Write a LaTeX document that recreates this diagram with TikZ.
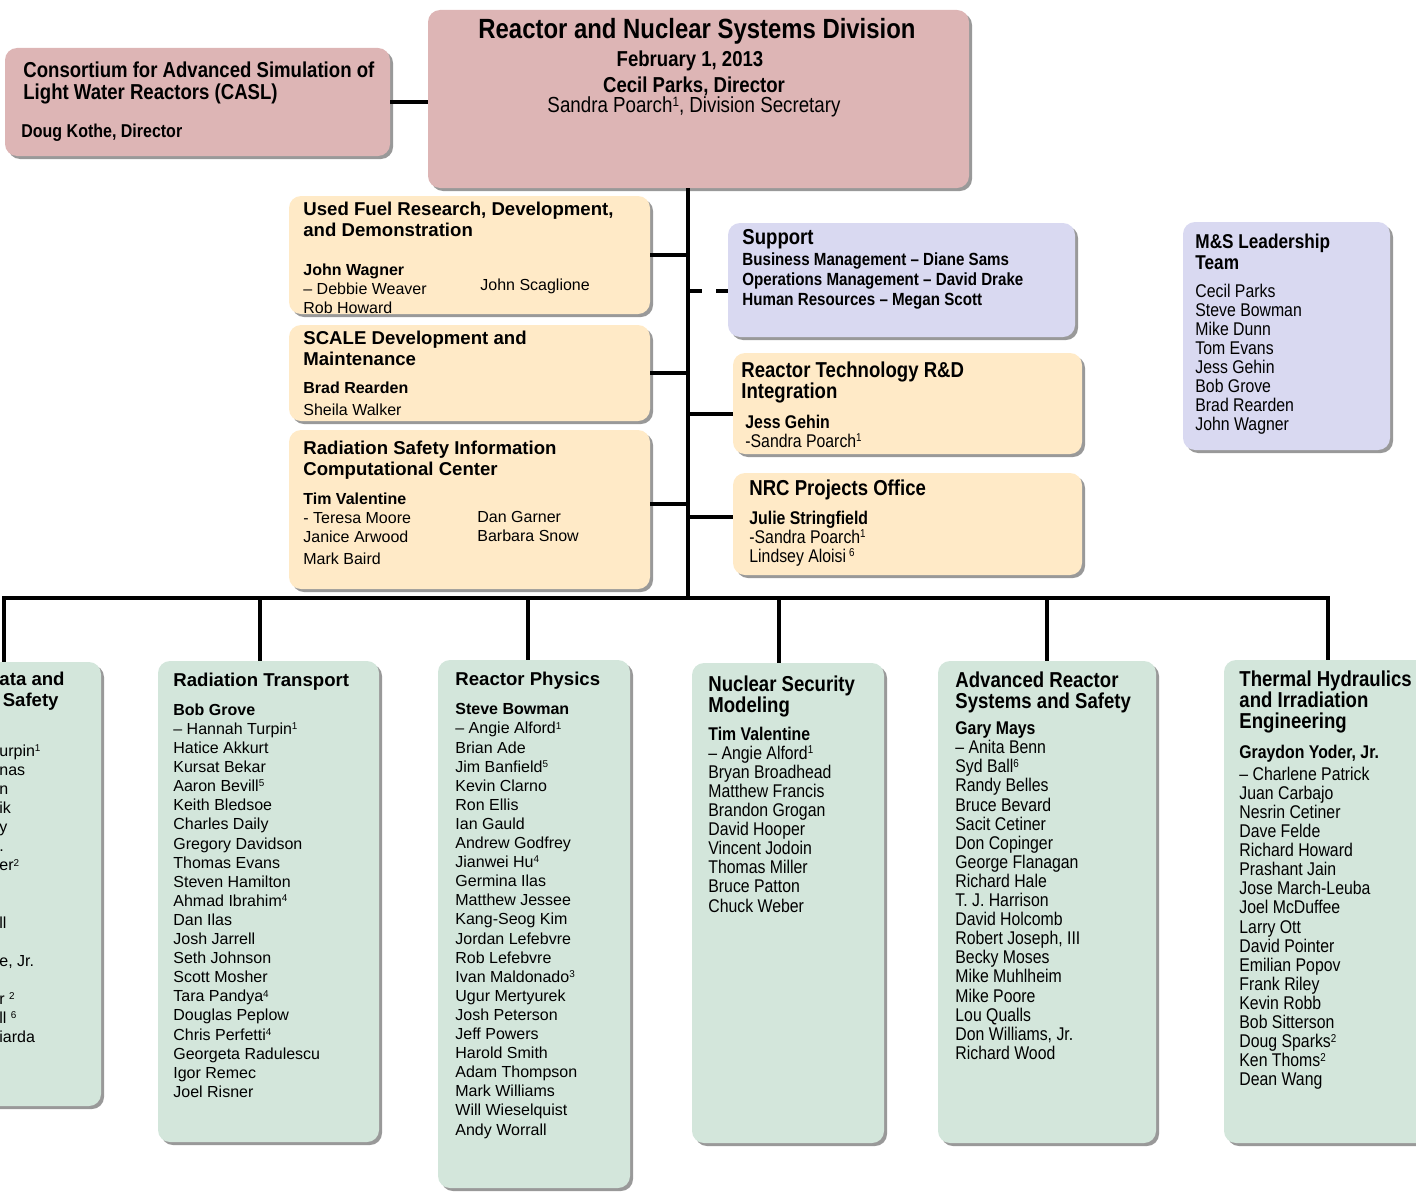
\documentclass[tikz,border=0pt]{standalone}
\usepackage{graphicx}
\usepackage{fontspec}
\setmainfont{Liberation Sans}
\newfontfamily\narrowfont[FakeStretch=0.86]{Liberation Sans}
\usetikzlibrary{fit,shadows}
\newcommand{\fsz}[2]{\fontsize{#1}{#2}\selectfont}
\newcommand{\fnote}[1]{\smash{\raisebox{0.3em}{\scalebox{0.62}{#1}}}}
\definecolor{rosebg}{RGB}{221,181,181}
\definecolor{sandbg}{RGB}{255,234,199}
\definecolor{lilacbg}{RGB}{217,217,241}
\definecolor{mintbg}{RGB}{211,230,219}
\tikzset{box/.style={rounded corners=6pt, inner sep=0pt, draw=none,
           drop shadow={shadow xshift=1.5pt, shadow yshift=-1.5pt, fill=black!40, opacity=1}},
         rosebox/.style={box, fill=rosebg}, sandbox/.style={box, fill=sandbg},
         lilacbox/.style={box, fill=lilacbg}, mintbox/.style={box, fill=mintbg},
         txt/.style={inner sep=0pt, anchor=north west, align=left},
         wtitle/.style={txt, font=\bfseries\fsz{9.3}{10.5}},
         wlist/.style={txt, font=\fsz{8}{9.55}},
         ntitle/.style={txt, font=\narrowfont\bfseries\fsz{10.8}{10.6}},
         nlist/.style={txt, font=\narrowfont\fsz{9.2}{9.55}},
         link/.style={line width=2pt, black}}

\begin{document}
\begin{tikzpicture}[x=0.5pt,y=-0.5pt]
 \useasboundingbox (0,0) rectangle (1416,1193);
 \clip (0,0) rectangle (1416,1193);
 % boxes
 \node[rosebox, fit={(5,48) (390,156)}] (casl) {};
 \node[rosebox, fit={(428,10) (969,188)}] (rnsd) {};
 \node[sandbox, fit={(289,196) (650,314)}] (uf) {};
 \node[sandbox, fit={(289,325) (650,421)}] (scale) {};
 \node[sandbox, fit={(289,430) (650,589)}] (rsicc) {};
 \node[lilacbox, fit={(728,223) (1075,337)}] (sup) {};
 \node[sandbox, fit={(733,353) (1082,454)}] (rtech) {};
 \node[sandbox, fit={(733,473) (1082,575)}] (nrc) {};
 \node[lilacbox, fit={(1183,222) (1390,450)}] (msl) {};
 \node[mintbox, fit={(-150,662) (101,1106)}] (ldata) {};
 \node[mintbox, fit={(158,661) (379,1142)}] (rt) {};
 \node[mintbox, fit={(438,660) (630,1188)}] (rp) {};
 \node[mintbox, fit={(692,663) (884,1143)}] (nsm) {};
 \node[mintbox, fit={(938,661) (1156,1143)}] (arss) {};
 \node[mintbox, fit={(1224,660) (1460,1143)}] (thie) {};
 % connectors
 \coordinate (trunk) at (688,188);
 \coordinate (hub) at (688,598);
 \coordinate (d1) at (4,598);
 \coordinate (d2) at (260,598);
 \coordinate (d3) at (528,598);
 \coordinate (d4) at (779,598);
 \coordinate (d5) at (1047,598);
 \coordinate (d6) at (1328,598);
 \draw[link] (casl.east) -- (casl.east -| rnsd.west);
 \draw[link] (trunk) -- (hub);
 \draw[link] (uf.east) -- (uf.east -| hub);
 \draw[link] (scale.east) -- (scale.east -| hub);
 \draw[link] ([yshift=2.75pt]rsicc.east) -- ([yshift=2.75pt]rsicc.east -| hub);
 \draw[link, dash pattern=on 7pt off 7pt] ([yshift=-5.5pt]sup.west -| hub) -- ([yshift=-5.5pt]sup.west);
 \draw[link] ([yshift=-5.25pt]rtech.west) -- ([yshift=-5.25pt]rtech.west -| hub);
 \draw[link] ([yshift=3.5pt]nrc.west) -- ([yshift=3.5pt]nrc.west -| hub);
 \draw[link] (d1 |- ldata.north) -- (d1) -- (d6) -- (d6 |- thie.north);
 \draw[link] (d2) -- (d2 |- rt.north);
 \draw[link] (d3) -- (d3 |- rp.north);
 \draw[link] (d4) -- (d4 |- nsm.north);
 \draw[link] (d5) -- (d5 |- arss.north);
 % division
 \node[font=\narrowfont\bfseries\fsz{13.9}{16}, anchor=base, inner sep=0pt] (rnsd-t) at (697,39) {Reactor and Nuclear Systems Division};
 \node[font=\narrowfont\bfseries\fsz{10.8}{12}, anchor=base, inner sep=0pt] (rnsd-d) at (690,66.7) {February 1, 2013};
 \node[font=\narrowfont\bfseries\fsz{10.8}{12}, anchor=base, inner sep=0pt] (rnsd-h) at (694,92.7) {Cecil Parks, Director};
 \node[font=\narrowfont\fsz{10.9}{12}, anchor=base, inner sep=0pt] (rnsd-s) at (694,112.8) {Sandra Poarch\fnote{1}, Division Secretary};
 \node[txt, font=\narrowfont\bfseries\fsz{10.8}{11}] (casl-t) at (23,61.3) {Consortium for Advanced Simulation of\\Light Water Reactors (CASL)};
 \node[txt, font=\narrowfont\bfseries\fsz{9.3}{11}] (casl-d) at (21,123.3) {Doug Kothe, Director};
 % groups beside the trunk
 \node[wtitle] (uf-t) at (303,201.3) {Used Fuel Research, Development,\\and Demonstration};
 \node[wlist] (uf-l) at (303,263.3) {\textbf{John Wagner}\\– Debbie Weaver\\Rob Howard};
 \node[wlist, anchor=base west] (uf-r) at (480,290.7) {John Scaglione};
 \node[wtitle] (scale-t) at (303,330.3) {SCALE Development and\\Maintenance};
 \node[wlist] (scale-l) at (303,381.3) {\textbf{Brad Rearden}\\[1.5pt]Sheila Walker};
 \node[wtitle] (rsicc-t) at (303,440.3) {Radiation Safety Information\\Computational Center};
 \node[wlist] (rsicc-l) at (303,492.3) {\textbf{Tim Valentine}\\- Teresa Moore\\Janice Arwood\\[1.5pt]Mark Baird};
 \node[wlist] (rsicc-r) at (477,511.3) {Dan Garner\\Barbara Snow};
 \node[ntitle] (sup-t) at (742,229.3) {Support};
 \node[txt, font=\narrowfont\bfseries\fsz{8.8}{10}] (sup-l) at (742,252.7) {Business Management – Diane Sams\\Operations Management – David Drake\\Human Resources – Megan Scott};
 \node[ntitle] (rtech-t) at (741,361.3) {Reactor Technology R\&D\\Integration};
 \node[nlist] (rtech-l) at (745,414.4) {\textbf{Jess Gehin}\\-Sandra Poarch\fnote{1}};
 \node[ntitle] (nrc-t) at (749,479.3) {NRC Projects Office};
 \node[nlist] (nrc-l) at (749,510.4) {\textbf{Julie Stringfield}\\-Sandra Poarch\fnote{1}\\Lindsey Aloisi\,\fnote{6}};
 \node[txt, font=\narrowfont\bfseries\fsz{10}{10.5}] (msl-t) at (1195,233.8) {M\&S Leadership\\Team};
 \node[nlist] (msl-l) at (1195,283.4) {Cecil Parks\\Steve Bowman\\Mike Dunn\\Tom Evans\\Jess Gehin\\Bob Grove\\Brad Rearden\\John Wagner};
 % sections
 \node[wtitle, anchor=north east] (ldata-t1) at (65,671.3) {ata and};
 \node[wtitle, anchor=north east] (ldata-t2) at (59,692.3) {Safety};
 \node[wlist] (ldata-l) at (-1,744.3) {urpin\fnote{1}\\nas\\n\\ik\\y\\.\\er\fnote{2}\\\mbox{}\\\mbox{}\\ll\\\mbox{}\\e, Jr.\\\mbox{}\\r \fnote{2}\\ll \fnote{6}\\iarda};
 \node[wtitle] (rt-t) at (173,672.3) {Radiation Transport};
 \node[wlist] (rt-l) at (173,703.3) {\textbf{Bob Grove}\\– Hannah Turpin\fnote{1}\\Hatice Akkurt\\Kursat Bekar\\Aaron Bevill\fnote{5}\\Keith Bledsoe\\Charles Daily\\Gregory Davidson\\Thomas Evans\\Steven Hamilton\\Ahmad Ibrahim\fnote{4}\\Dan Ilas\\Josh Jarrell\\Seth Johnson\\Scott Mosher\\Tara Pandya\fnote{4}\\Douglas Peplow\\Chris Perfetti\fnote{4}\\Georgeta Radulescu\\Igor Remec\\Joel Risner};
 \node[wtitle] (rp-t) at (455,671.3) {Reactor Physics};
 \node[wlist] (rp-l) at (455,703.3) {\textbf{Steve Bowman}\\– Angie Alford\fnote{1}\\Brian Ade\\Jim Banfield\fnote{5}\\Kevin Clarno\\Ron Ellis\\Ian Gauld\\Andrew Godfrey\\Jianwei Hu\fnote{4}\\Germina Ilas\\Matthew Jessee\\Kang-Seog Kim\\Jordan Lefebvre\\Rob Lefebvre\\Ivan Maldonado\fnote{3}\\Ugur Mertyurek\\Josh Peterson\\Jeff Powers\\Harold Smith\\Adam Thompson\\Mark Williams\\Will Wieselquist\\Andy Worrall};
 \node[ntitle] (nsm-t) at (708,675.3) {Nuclear Security\\Modeling};
 \node[nlist] (nsm-l) at (708,726.4) {\textbf{Tim Valentine}\\– Angie Alford\fnote{1}\\Bryan Broadhead\\Matthew Francis\\Brandon Grogan\\David Hooper\\Vincent Jodoin\\Thomas Miller\\Bruce Patton\\Chuck Weber};
 \node[ntitle] (arss-t) at (955,671.3) {Advanced Reactor\\Systems and Safety};
 \node[nlist] (arss-l) at (955,721.4) {\textbf{Gary Mays}\\– Anita Benn\\Syd Ball\fnote{6}\\Randy Belles\\Bruce Bevard\\Sacit Cetiner\\Don Copinger\\George Flanagan\\Richard Hale\\T. J. Harrison\\David Holcomb\\Robert Joseph, III\\Becky Moses\\Mike Muhlheim\\Mike Poore\\Lou Qualls\\Don Williams, Jr.\\Richard Wood};
 \node[ntitle] (thie-t) at (1239,670.3) {Thermal Hydraulics\\and Irradiation\\Engineering};
 \node[nlist] (thie-l) at (1239,744.4) {\textbf{Graydon Yoder, Jr.}\\[1.5pt]– Charlene Patrick\\Juan Carbajo\\Nesrin Cetiner\\Dave Felde\\Richard Howard\\Prashant Jain\\Jose March-Leuba\\Joel McDuffee\\Larry Ott\\David Pointer\\Emilian Popov\\Frank Riley\\Kevin Robb\\Bob Sitterson\\Doug Sparks\fnote{2}\\Ken Thoms\fnote{2}\\Dean Wang};
\end{tikzpicture}
\end{document}
